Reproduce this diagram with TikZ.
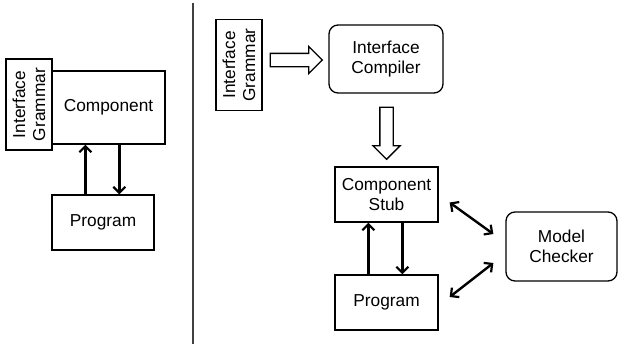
\documentclass[tikz,border=0pt]{standalone}
\usepackage{fontspec}
\setmainfont{Liberation Sans}
\usetikzlibrary{arrows.meta, shapes.arrows, positioning}

\begin{document}
\begin{tikzpicture}[x=1pt, y=-1pt,
  every node/.style={font=\fontsize{17.3}{20}\selectfont},
  box/.style={draw, line width=1.3pt, align=center, inner sep=0pt},
  rbox/.style={box, rounded corners=9pt},
  grammar/.style={box, rotate=90, minimum width=91pt, minimum height=46pt},
  barb/.tip={Straight Barb[length=6pt, width=12pt, line width=2.2pt]},
  flow/.style={line width=2.4pt, -barb},
  both/.style={line width=2.4pt, barb-barb},
  hollow/.style={draw, line width=1.3pt, single arrow, minimum height=52pt, single arrow head extend=7pt, inner xsep=0pt, inner ysep=6pt}]
\useasboundingbox (0,0) rectangle (618,348);

% left: program with component
\node[box, minimum width=113pt, minimum height=73pt] (compL) at (108.5,107.5) {Component};
\node[grammar, fill=white] (gramL) at (29,104.5) {Interface\\Grammar};
\node[box, minimum width=102pt, minimum height=55pt] (progL) at (103,222.5) {Program};
\draw[flow] ([xshift=34pt]progL.north west) -- ([xshift=34pt]progL.north west |- compL.south);
\draw[flow] ([xshift=68pt]progL.north west |- compL.south) -- ([xshift=68pt]progL.north west);

\draw[line width=1.3pt, black!75] (193,3) -- (193,344);

% right: generated stub and model checker
\node[grammar] (gramR) at (239,65) {Interface\\Grammar};
\node[rbox, minimum width=114pt, minimum height=68pt] (compiler) at (386,59) {Interface\\Compiler};
\node[hollow] (arrA) at (293,60) {};
\node[box, minimum width=103pt, minimum height=55pt] (stub) at (386.5,194.5) {Component\\Stub};
\node[hollow, rotate=-90] (arrB) at (386.5,130) {};
\node[box, minimum width=103pt, minimum height=55pt] (progR) at (386.5,302.5) {Program};
\node[rbox, minimum width=111pt, minimum height=69pt] (checker) at (561.5,246.5) {Model\\Checker};
\draw[flow] ([xshift=34pt]progR.north west) -- ([xshift=34pt]progR.north west |- stub.south);
\draw[flow] ([xshift=68pt]progR.north west |- stub.south) -- ([xshift=68pt]progR.north west);
\draw[both] ([shift={(11,8)}]stub.east) -- ([shift={(-12,-12.5)}]checker.west);
\draw[both] ([shift={(11,-5.5)}]progR.east) -- ([shift={(-12,16.5)}]checker.west);
\end{tikzpicture}
\end{document}
